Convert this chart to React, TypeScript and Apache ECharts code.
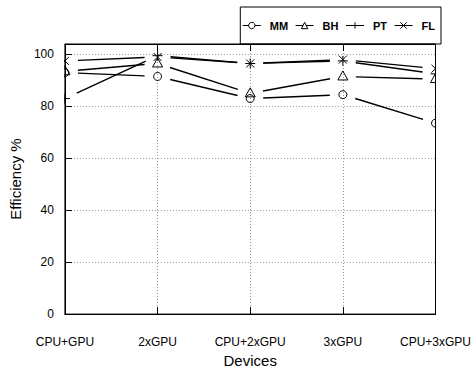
import React, { useEffect, useRef } from 'react';
import * as echarts from 'echarts';

const categories = ['CPU+GPU', '2xGPU', 'CPU+2xGPU', '3xGPU', 'CPU+3xGPU'];
const mmValues = [93, 91.5, 83, 84.5, 73.5];
const bhValues = [93.5, 96.5, 85, 91.5, 90.5];
const ptValues = [83, 99.5, 96.5, 97.5, 92.5];
const flValues = [97.5, 99, 96.5, 98, 94.5];
const seriesNames = ['MM', 'BH', 'PT', 'FL'];

const FONT = '"Liberation Sans", Arial, Helvetica, sans-serif';
const GAP = 13;

type Marker = 'circle' | 'triangle' | 'plus' | 'cross';
const defs: { name: string; values: number[]; marker: Marker; legendSymbol: string }[] = [
  { name: seriesNames[0], values: mmValues, marker: 'circle', legendSymbol: 'circle' },
  { name: seriesNames[1], values: bhValues, marker: 'triangle', legendSymbol: 'triangle' },
  { name: seriesNames[2], values: ptValues, marker: 'plus', legendSymbol: 'path://M5,0L5,10M0,5L10,5' },
  { name: seriesNames[3], values: flValues, marker: 'cross', legendSymbol: 'path://M0,0L10,10M10,0L0,10' },
];

function markerShape(marker: Marker, x: number, y: number): any {
  const stroke = { stroke: '#000', lineWidth: 1, fill: 'none' };
  if (marker === 'circle') {
    return { type: 'circle', shape: { cx: x, cy: y, r: 4 }, style: { ...stroke } };
  }
  if (marker === 'triangle') {
    return {
      type: 'polygon',
      shape: { points: [[x, y - 5.5], [x - 5, y + 3.5], [x + 5, y + 3.5]] },
      style: { ...stroke },
    };
  }
  if (marker === 'plus') {
    return {
      type: 'group',
      children: [
        { type: 'line', shape: { x1: x - 5, y1: y, x2: x + 5, y2: y }, style: { ...stroke } },
        { type: 'line', shape: { x1: x, y1: y - 5, x2: x, y2: y + 5 }, style: { ...stroke } },
      ],
    };
  }
  return {
    type: 'group',
    children: [
      { type: 'line', shape: { x1: x - 4, y1: y - 4, x2: x + 4, y2: y + 4 }, style: { ...stroke } },
      { type: 'line', shape: { x1: x - 4, y1: y + 4, x2: x + 4, y2: y - 4 }, style: { ...stroke } },
    ],
  };
}

export default function App() {
  const ref = useRef<HTMLDivElement>(null);
  useEffect(() => {
    if (!ref.current) return;
    const chart = echarts.init(ref.current, null, { renderer: 'svg' });

    const legendSeries = defs.map((d) => ({
      name: d.name,
      type: 'line',
      data: [],
      symbol: d.legendSymbol,
      symbolSize: 6,
      lineStyle: { color: '#000', width: 1 },
      itemStyle: { color: '#fff', borderColor: '#000', borderWidth: 1 },
    }));

    const customSeries = defs.map((d) => ({
      name: d.name + ' line',
      type: 'custom',
      clip: true,
      encode: { x: 0, y: 1 },
      data: d.values.map((v, i) => [i, v]),
      renderItem: (params: any, api: any) => {
        const i = api.value(0) as number;
        const v = api.value(1) as number;
        const p = api.coord([i, v]);
        const children: any[] = [markerShape(d.marker, p[0], p[1])];
        if (i < d.values.length - 1) {
          const q = api.coord([i + 1, d.values[i + 1]]);
          const dx = q[0] - p[0];
          const dy = q[1] - p[1];
          const len = Math.sqrt(dx * dx + dy * dy);
          const ux = dx / len;
          const uy = dy / len;
          children.push({
            type: 'line',
            shape: {
              x1: p[0] + ux * GAP,
              y1: p[1] + uy * GAP,
              x2: q[0] - ux * GAP,
              y2: q[1] - uy * GAP,
            },
            style: { stroke: '#000', lineWidth: 1.4 },
          });
        }
        return { type: 'group', children };
      },
    }));

    chart.setOption({
      animation: false,
      backgroundColor: '#fff',
      textStyle: { fontFamily: FONT },
      legend: {
        data: seriesNames,
        right: 33,
        top: 7,
        padding: [13, 6, 13, 2],
        itemGap: 7,
        itemWidth: 18,
        itemHeight: 8,
        borderColor: '#000',
        borderWidth: 1,
        lineStyle: { width: 1, color: '#000' },
        itemStyle: { borderWidth: 1, borderColor: '#000', color: '#fff' },
        formatter: (name: string) => '{a|' + name + '}',
        textStyle: {
          fontFamily: FONT,
          fontSize: 11,
          fontWeight: 'bold',
          color: '#000',
          rich: {
            a: {
              fontFamily: FONT,
              fontSize: 11,
              fontWeight: 'bold',
              color: '#000',
              width: 20,
              padding: [0, 0, 0, 4],
            },
          },
        },
      },
      grid: {
        left: 59,
        right: 34,
        top: 44,
        bottom: 53,
        show: true,
        borderColor: '#000',
        borderWidth: 1,
        backgroundColor: 'transparent',
      },
      xAxis: [
        {
          type: 'category',
          data: categories,
          boundaryGap: false,
          name: 'Devices',
          nameLocation: 'middle',
          nameGap: 37,
          nameTextStyle: { fontFamily: FONT, fontSize: 15, color: '#000' },
          axisLine: { lineStyle: { color: '#000', width: 1 } },
          axisTick: { inside: true, length: 7, lineStyle: { color: '#000' } },
          axisLabel: { fontFamily: FONT, fontSize: 12, color: '#000', margin: 22 },
          splitLine: {
            show: true,
            showMinLine: false,
            showMaxLine: false,
            lineStyle: { color: '#999', type: [1, 2], width: 1 },
          },
        },
        {
          type: 'category',
          data: categories,
          boundaryGap: false,
          position: 'top',
          axisLine: { lineStyle: { color: '#000', width: 1 } },
          axisTick: { inside: true, length: 7, lineStyle: { color: '#000' } },
          axisLabel: { show: false },
          splitLine: { show: false },
        },
      ],
      yAxis: {
        type: 'value',
        min: 0,
        max: 104,
        interval: 20,
        name: 'Efficiency %',
        nameLocation: 'middle',
        nameGap: 28,
        nameTextStyle: { fontFamily: FONT, fontSize: 15, color: '#000' },
        axisLine: { show: true, lineStyle: { color: '#000', width: 1 } },
        axisTick: { show: true, inside: true, length: 7, lineStyle: { color: '#000' } },
        axisLabel: { fontFamily: FONT, fontSize: 12, color: '#000', margin: 11, showMaxLabel: false },
        splitLine: {
          show: true,
          showMinLine: false,
          showMaxLine: false,
          lineStyle: { color: '#999', type: [1, 2], width: 1 },
        },
      },
      series: [...legendSeries, ...customSeries],
    });

    return () => chart.dispose();
  }, []);

  return <div ref={ref} style={{ width: 474, height: 373, position: 'absolute', left: 0, top: 0 }} />;
}
